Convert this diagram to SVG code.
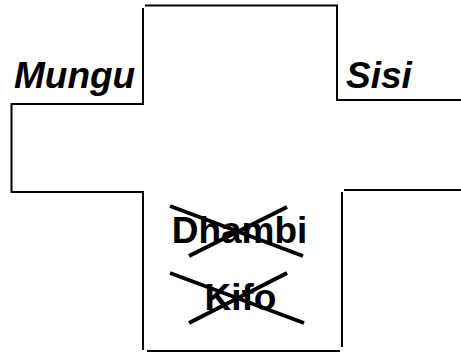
<svg xmlns="http://www.w3.org/2000/svg" width="461" height="352" viewBox="0 0 461 352">
<style>
.o{fill:none;stroke:#000;stroke-width:2}
.x{fill:none;stroke:#000;stroke-width:4}
.lbl{font-family:"Liberation Sans",Arial,sans-serif;font-size:37px;font-weight:bold;fill:#000}
.it{font-style:italic}
</style>
<rect width="461" height="352" fill="#fff"/>
<g id="outline">
<path class="o" d="M145,5.5 H337 V100 H461"/>
<path class="o" d="M143,8 V104 H11.5 V192 H143 V350"/>
<path class="o" d="M147,351 H340"/>
<path class="o" d="M342,347 V192"/>
<path class="o" d="M344,190 H461"/>
</g>
<g id="mungu"><text class="lbl it" x="14" y="88">Mungu</text></g>
<g id="sisi"><text class="lbl it" x="346" y="88">Sisi</text></g>
<g id="dhambi"><text class="lbl" x="239.5" y="243" text-anchor="middle">Dhambi</text></g>
<g id="kifo"><text class="lbl" x="240.5" y="310" text-anchor="middle">Kifo</text></g>
<g id="crosses">
<path class="x" d="M170,206 L303,256 M189,256 L287,207"/>
<path class="x" d="M170,273 L304,323 M189,323 L287,273"/>
</g>
</svg>
